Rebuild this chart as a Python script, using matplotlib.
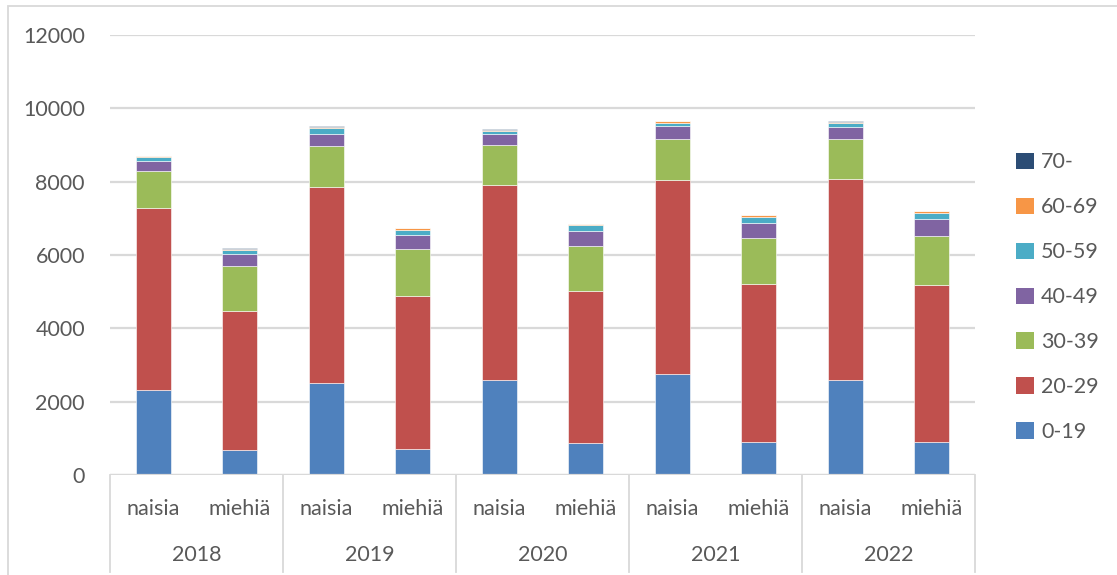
import numpy as np
from matplotlib import pyplot as plt
from matplotlib.patches import Patch, Rectangle
from matplotlib.lines import Line2D

years = ["2018", "2019", "2020", "2021", "2022"]
sexes = ["naisia", "miehiä"]
age_groups = ["0-19", "20-29", "30-39", "40-49", "50-59", "60-69", "70-"]

# order: 2018 naisia, 2018 miehiä, 2019 naisia, ...
age_0_19 = [2320, 680, 2520, 716, 2587, 872, 2752, 890, 2587, 890]
age_20_29 = [4970, 3800, 5340, 4175, 5335, 4150, 5280, 4320, 5480, 4295]
age_30_39 = [1010, 1210, 1110, 1275, 1065, 1210, 1130, 1265, 1100, 1345]
age_40_49 = [270, 330, 320, 380, 300, 410, 355, 410, 327, 463]
age_50_59 = [110, 125, 165, 145, 100, 175, 90, 155, 110, 165]
age_60_69 = [15, 30, 35, 45, 35, 25, 35, 40, 35, 35]
age_70 = [12, 10, 20, 10, 10, 10, 20, 15, 12, 11]

series = [age_0_19, age_20_29, age_30_39, age_40_49, age_50_59, age_60_69, age_70]
colors = ["#4F81BD", "#C0504D", "#9BBB59", "#8064A2", "#4BACC6", "#F79646", "#2C4D75"]

plt.rcParams['font.family'] = ['Lato', 'DejaVu Sans']
txt = "#595959"
grid = "#D9D9D9"
fs = 15.5

fig = plt.figure(figsize=(11.17, 5.75), dpi=100)
ax = fig.add_axes([110 / 1117, 1 - 475 / 575, 865 / 1117, 440 / 575])

x = np.arange(len(age_0_19))
bottom = np.zeros(len(x))
for vals, col in zip(series, colors):
    ax.bar(x, vals, 0.4, bottom=bottom, color=col, edgecolor="white", linewidth=0.4, zorder=3)
    bottom += np.array(vals)

ax.set_xlim(-0.5, len(x) - 0.5)
ax.set_ylim(0, 12000)
ax.set_yticks(range(0, 12001, 2000))
ax.yaxis.grid(True, color=grid, linewidth=1.6, zorder=0)
for s in ax.spines.values():
    s.set_visible(False)
ax.axhline(0, color=grid, linewidth=1.6, zorder=4)
ax.tick_params(axis="y", length=0, pad=18, labelsize=fs, labelcolor=txt)

ax.set_xticks(x)
ax.set_xticklabels(sexes * len(years))
ax.tick_params(axis="x", length=0, pad=17, labelsize=fs, labelcolor=txt)

# year labels and group separators below the axis
trans = ax.get_xaxis_transform()
for i, yr in enumerate(years):
    ax.text(2 * i + 0.5, -80 / 440, yr, transform=trans, ha="center", va="center",
            fontsize=fs, color=txt)
for b in range(len(years) + 1):
    ax.add_line(Line2D([2 * b - 0.5, 2 * b - 0.5], [0, -97 / 440], transform=trans,
                       color=grid, linewidth=1.3, clip_on=False))

# outer chart frame
fig.add_artist(Rectangle((8 / 1117, -0.1), 1.2, 1 - 6 / 575 + 0.1, transform=fig.transFigure,
                         fill=False, edgecolor=grid, linewidth=1.3))

handles = [Patch(facecolor=c, label=l) for c, l in zip(colors, age_groups)][::-1]
fig.legend(handles=handles, loc="upper left", bbox_to_anchor=(1012 / 1117, 1 - 148 / 575),
           frameon=False, fontsize=fs, labelcolor=txt, handlelength=0.8, handleheight=0.8,
           handletextpad=0.35, labelspacing=1.16, borderaxespad=0, borderpad=0.2)

plt.savefig("out.png", dpi=100)
